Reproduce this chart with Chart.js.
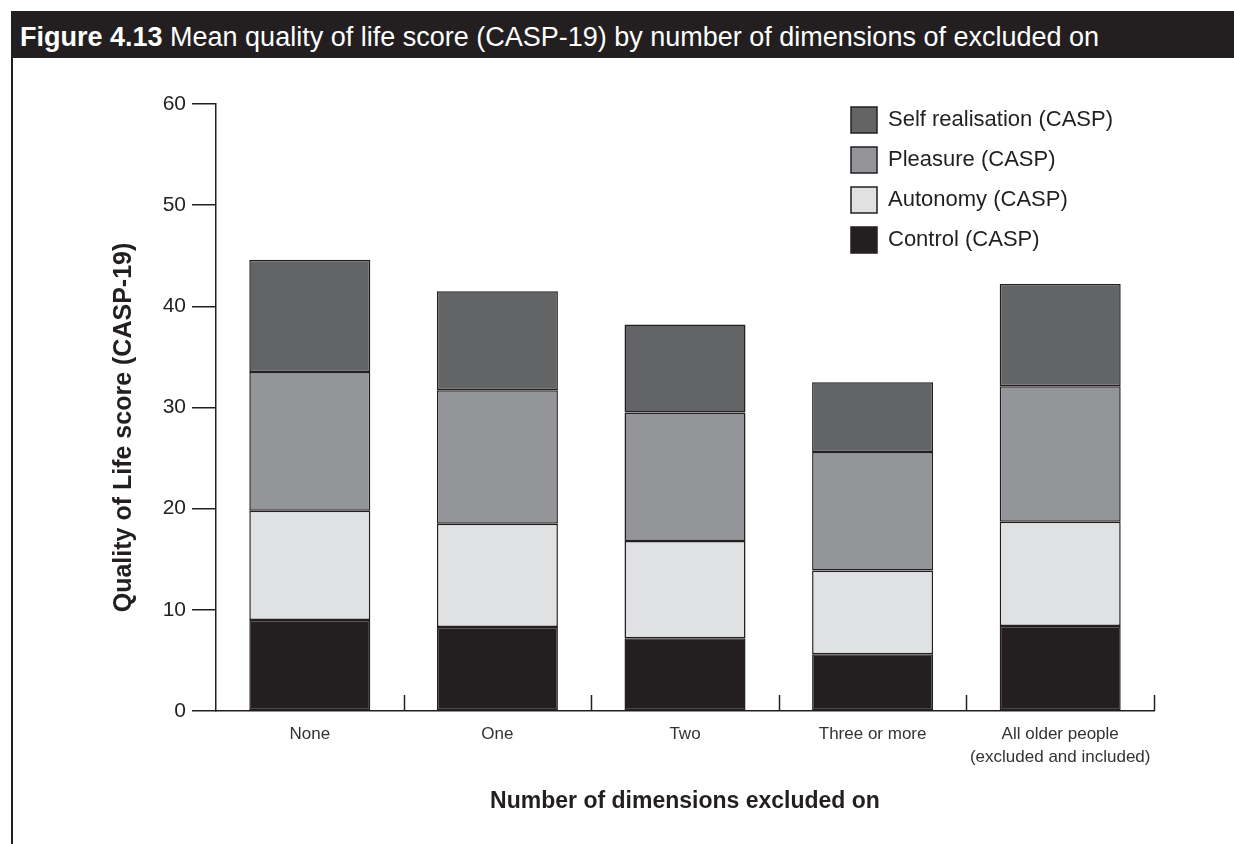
<!DOCTYPE html>
<html>
<head>
<meta charset="utf-8">
<script src="https://cdn.jsdelivr.net/npm/chart.js@4/dist/chart.umd.min.js"></script>
<style>
  html, body { margin: 0; padding: 0; background: #ffffff; }
  #wrap { position: relative; width: 1234px; height: 844px; overflow: hidden; }
  #chart { position: absolute; left: 0; top: 0; }
  #titlebar {
    position: absolute; left: 11px; top: 11px; width: 1223px; height: 47px;
    background: #231f20; color: #ffffff;
    font-family: "Liberation Sans", Arial, sans-serif; font-size: 27px;
    line-height: 52px; padding-left: 9px; box-sizing: border-box; white-space: nowrap;
  }
  #titlebar b { font-weight: bold; }
  #leftline { position: absolute; left: 11px; top: 58px; width: 2px; height: 786px; background: #231f20; }
</style>
</head>
<body>
<div id="wrap">
  <canvas id="chart" width="1234" height="844"></canvas>
  <div id="titlebar"><b>Figure 4.13</b> Mean quality of life score (CASP-19) by number of dimensions of excluded on</div>
  <div id="leftline"></div>
</div>
<script>
// ---- data ----
const categories = ['None', 'One', 'Two', 'Three or more', ['All older people', '(excluded and included)']];
const controlValues = [9.0, 8.3, 7.2, 5.6, 8.4];
const autonomyValues = [10.8, 10.2, 9.6, 8.3, 10.3];
const pleasureValues = [13.7, 13.2, 12.7, 11.7, 13.4];
const selfRealisationValues = [11.1, 9.8, 8.7, 6.9, 10.1];
const yTicks = [0, 10, 20, 30, 40, 50, 60];
const seriesNames = ['Control (CASP)', 'Autonomy (CASP)', 'Pleasure (CASP)', 'Self realisation (CASP)'];
const seriesColors = ['#231f20', '#e0e1e3', '#939598', '#636466'];
const yTitle = 'Quality of Life score (CASP-19)';
const xTitle = 'Number of dimensions excluded on';

Chart.defaults.font.family = '"Liberation Sans", Arial, sans-serif';
Chart.defaults.color = '#231f20';

const AXIS = '#231f20';

const xTickPlugin = {
  id: 'xTickMarks',
  afterDraw(chart) {
    const xs = chart.scales.x;
    const ctx = chart.ctx;
    const bottom = chart.chartArea.bottom;
    ctx.save();
    ctx.strokeStyle = AXIS;
    ctx.lineWidth = 1.5;
    for (let i = 1; i <= categories.length; i++) {
      const px = Math.round(xs.getPixelForValue(i - 0.5)) + 0.5;
      ctx.beginPath();
      ctx.moveTo(px, bottom);
      ctx.lineTo(px, bottom - 16);
      ctx.stroke();
    }
    ctx.restore();
  }
};

const yTitlePlugin = {
  id: 'yTitle',
  afterDraw(chart) {
    const ctx = chart.ctx;
    const ca = chart.chartArea;
    ctx.save();
    ctx.translate(124, (ca.top + ca.bottom) / 2 + 20);
    ctx.rotate(-Math.PI / 2);
    ctx.font = 'bold 25px "Liberation Sans", Arial, sans-serif';
    ctx.fillStyle = '#231f20';
    ctx.textAlign = 'center';
    ctx.textBaseline = 'middle';
    ctx.fillText(yTitle, 0, 0);
    ctx.restore();
  }
};

const legendPlacePlugin = {
  id: 'legendPlace',
  afterLayout(chart) {
    const lg = chart.legend;
    if (!lg) return;
    const pad = 14;
    lg.left = 851 - pad;
    lg.top = 107 - pad;
    lg.right = lg.left + lg.width;
    lg.bottom = lg.top + lg.height;
  }
};

const datasets = [controlValues, autonomyValues, pleasureValues, selfRealisationValues].map((vals, i) => ({
  label: seriesNames[i],
  data: vals,
  backgroundColor: seriesColors[i],
  borderColor: '#231f20',
  borderWidth: 1.5,
  borderSkipped: false,
  categoryPercentage: 1.0,
  barPercentage: 0.645
}));

new Chart(document.getElementById('chart'), {
  type: 'bar',
  data: { labels: categories, datasets },
  plugins: [xTickPlugin, yTitlePlugin, legendPlacePlugin],
  options: {
    responsive: false,
    devicePixelRatio: 1,
    animation: false,
    layout: { padding: { left: 0, right: 80, top: 104, bottom: 0 } },
    plugins: {
      tooltip: { enabled: false },
      title: { display: false },
      legend: {
        position: 'chartArea',
        align: 'start',
        reverse: true,
        labels: {
          boxWidth: 26,
          boxHeight: 26,
          padding: 14,
          color: '#231f20',
          font: { size: 22 }
        }
      }
    },
    scales: {
      x: {
        stacked: true,
        offset: true,
        grid: { display: false },
        border: { display: true, color: AXIS, width: 1.5 },
        ticks: {
          color: '#333333',
          padding: 3,
          maxRotation: 0,
          autoSkip: false,
          font: { size: 17, lineHeight: 1.4 }
        },
        title: {
          display: true,
          text: xTitle,
          color: '#231f20',
          font: { size: 23, weight: 'bold' },
          padding: { top: 0, bottom: 29 }
        },
        afterFit(scale) { scale.height = 133; }
      },
      y: {
        stacked: true,
        min: 0,
        max: 60,
        afterBuildTicks(scale) { scale.ticks = yTicks.map(v => ({ value: v })); },
        grid: {
          drawOnChartArea: false,
          drawTicks: true,
          tickLength: 24,
          color: AXIS,
          lineWidth: 1.5
        },
        border: { display: true, color: AXIS, width: 1.5 },
        ticks: {
          color: '#231f20',
          padding: 6,
          crossAlign: 'near',
          font: { size: 21 }
        },
        title: { display: false },
        afterFit(scale) { scale.width = 216; }
      }
    }
  }
});
</script>
</body>
</html>
